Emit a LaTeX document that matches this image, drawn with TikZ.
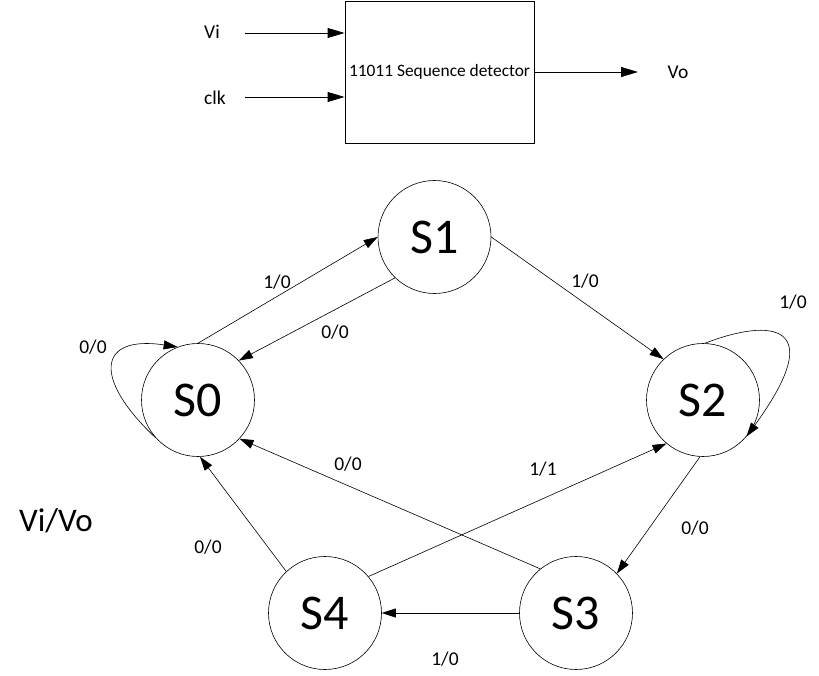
\documentclass[tikz,border=0pt]{standalone}
\usepackage{fontspec}
\setmainfont{Carlito}
\usetikzlibrary{arrows.meta}

\begin{document}
\begin{tikzpicture}[x=1pt,y=-1pt,
	state/.style={draw,circle,minimum size=113pt,inner sep=0pt,line width=0.6pt,font=\fontsize{50}{54}\selectfont},
	lbl/.style={font=\fontsize{19.5}{22}\selectfont,inner sep=0pt},
	arr/.style={line width=0.6pt,-{Triangle[length=14pt,width=9pt]}},
	bigarr/.style={line width=0.9pt,-{Triangle[length=17pt,width=10pt]}}]
					\useasboundingbox (0,0) rectangle (819,676);
					% block
					\node[draw,line width=0.9pt,minimum width=189pt,minimum height=142pt,inner sep=0pt,font=\fontsize{17.4}{19}\selectfont] (det) at (439.5,72) {11011 Sequence detector};
					\node[lbl] (vi) at (212,32) {Vi};
					\node[lbl] (clk) at (215,98) {clk};
					\node[lbl] (vo) at (678,72) {Vo};
					\coordinate (vistart) at (245,33);
					\coordinate (clkstart) at (245,97);
					\coordinate (voend) at (638,72);
					\draw[bigarr] (vistart) -- (vistart -| det.west);
					\draw[bigarr] (clkstart) -- (clkstart -| det.west);
					\draw[bigarr] (det.east) -- (voend);
					
					% states
					\node[state] (S0) at (198,400) {S0};
					\node[state] (S1) at (434.5,237) {S1};
					\node[state] (S2) at (703,400) {S2};
					\node[state] (S3) at (576,613) {S3};
					\node[state] (S4) at (325,613) {S4};
					
					% transitions
					\draw[arr] (S0.90) -- (S1.180);
					\draw[arr] (S1.226) -- (S0.44);
					\draw[arr] (S0.222) .. controls (92,378) and (98,335) .. (S0.111);
					\draw[arr] (S1.0) -- (S2.134);
					\draw[arr] (S2.88) .. controls (770,318) and (830,322) .. (S2.-40);
					\draw[arr] (S2.-93) -- (S3.44);
					\draw[arr] (S3.180) -- (S4.0);
					\draw[arr] (S3.129) -- (S0.-43);
					\draw[arr] (S4.40) -- (S2.230);
					\draw[arr] (S4.133) -- (S0.-88);
					
					\node[lbl] (l01) at (277,282) {1/0};
					\node[lbl] (l10) at (335,332) {0/0};
					\node[lbl] (l00) at (93,347) {0/0};
					\node[lbl] (l12) at (585,281) {1/0};
					\node[lbl] (l22) at (793,302) {1/0};
					\node[lbl] (l23) at (695,528) {0/0};
					\node[lbl] (l34) at (445,659) {1/0};
					\node[lbl] (l30) at (348,464) {0/0};
					\node[lbl] (l42) at (543,469) {1/1};
					\node[lbl] (l40) at (208,547) {0/0};
					\node[font=\fontsize{33}{36}\selectfont,inner sep=0pt] (key) at (56,521) {Vi/Vo};
\end{tikzpicture}
\end{document}
